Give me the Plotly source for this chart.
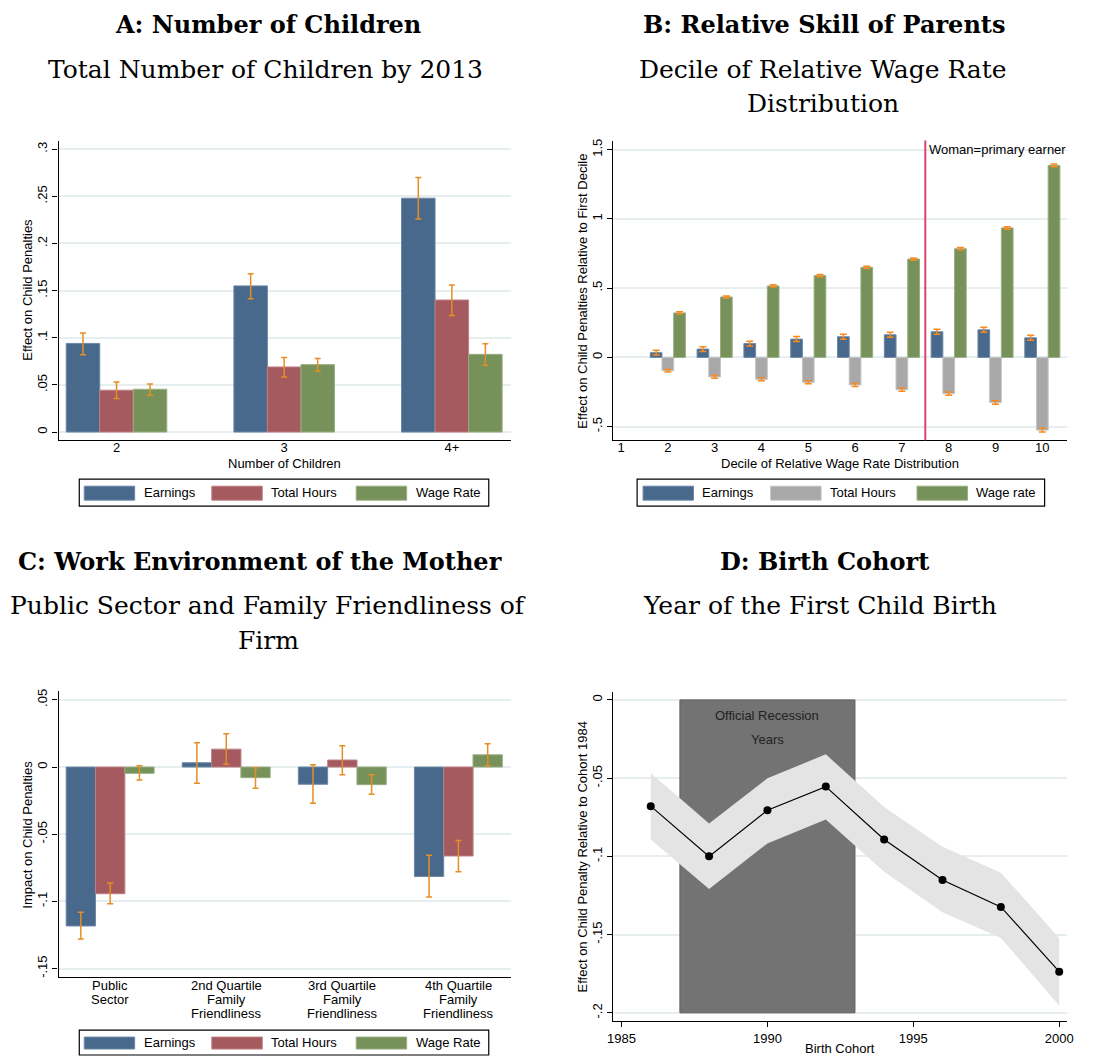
import numpy as np
import plotly.graph_objects as go

W, H = 1107, 1057
PAD = 8  # the page body margin shifts the figure by this much

# ---- Panel A: number of children ----
children_cats = ["2", "3", "4+"]
a_earn = [0.094, 0.155, 0.248]
a_earn_hi = [0.105, 0.168, 0.270]
a_earn_lo = [0.082, 0.1415, 0.226]
a_hours = [0.0444, 0.069, 0.140]
a_hours_hi = [0.053, 0.079, 0.156]
a_hours_lo = [0.0356, 0.0585, 0.1236]
a_wage = [0.0454, 0.0715, 0.0824]
a_wage_hi = [0.051, 0.078, 0.0937]
a_wage_lo = [0.039, 0.0648, 0.0708]
a_ticks = [0, 0.05, 0.1, 0.15, 0.2, 0.25, 0.3]
a_ticktext = ["0", ".05", ".1", ".15", ".2", ".25", ".3"]

# ---- Panel B: relative skill of parents ----
deciles = [2, 3, 4, 5, 6, 7, 8, 9, 10]
b_earn = [0.034, 0.060, 0.100, 0.132, 0.149, 0.163, 0.185, 0.199, 0.141]
b_earn_err = [0.017, 0.017, 0.017, 0.018, 0.018, 0.018, 0.018, 0.018, 0.018]
b_hours = [-0.096, -0.141, -0.158, -0.180, -0.199, -0.233, -0.261, -0.326, -0.525]
b_hours_err = [0.009, 0.010, 0.010, 0.011, 0.011, 0.012, 0.012, 0.013, 0.014]
b_wage = [0.321, 0.436, 0.516, 0.590, 0.650, 0.710, 0.784, 0.935, 1.386]
b_wage_err = [0.008, 0.008, 0.008, 0.008, 0.008, 0.008, 0.009, 0.009, 0.010]
b_xticks = list(range(1, 11))
b_ticks = [-0.5, 0, 0.5, 1, 1.5]
b_ticktext = ["-.5", "0", ".5", "1", "1.5"]
primary_earner_cut = 7.5

# ---- Panel C: work environment of the mother ----
env_cats = ["Public Sector", "2nd Quartile", "3rd Quartile", "4th Quartile"]
env_labels = [["Public", "Sector"],
              ["2nd Quartile", "Family", "Friendliness"],
              ["3rd Quartile", "Family", "Friendliness"],
              ["4th Quartile", "Family", "Friendliness"]]
c_earn = [-0.1183, 0.0032, -0.0128, -0.0815]
c_earn_hi = [-0.108, 0.018, 0.0017, -0.0657]
c_earn_lo = [-0.128, -0.012, -0.0269, -0.0968]
c_hours = [-0.0943, 0.0133, 0.0052, -0.0662]
c_hours_hi = [-0.0864, 0.0247, 0.0158, -0.0546]
c_hours_lo = [-0.1017, 0.002, -0.0057, -0.078]
c_wage = [-0.0047, -0.0079, -0.0131, 0.0091]
c_wage_hi = [0.001, -0.0005, -0.0057, 0.0173]
c_wage_lo = [-0.0096, -0.0158, -0.0202, 0.001]
c_ticks = [-0.15, -0.1, -0.05, 0, 0.05]
c_ticktext = ["-.15", "-.1", "-.05", "0", ".05"]

# ---- Panel D: birth cohort ----
cohorts = [1986, 1988, 1990, 1992, 1994, 1996, 1998, 2000]
d_est = [-0.0679, -0.100, -0.0705, -0.0554, -0.0892, -0.1151, -0.1323, -0.1737]
d_hi = [-0.0467, -0.079, -0.0501, -0.0348, -0.0684, -0.0938, -0.1104, -0.1522]
d_lo = [-0.0892, -0.1208, -0.0917, -0.0764, -0.1098, -0.1357, -0.1522, -0.1953]
recession = [1987, 1993]
d_xticks = [1985, 1990, 1995, 2000]
d_ticks = [-0.2, -0.15, -0.1, -0.05, 0]
d_ticktext = ["-.2", "-.15", "-.1", "-.05", "0"]

# colours
EARN, HOURS, WAGE, GRAY = "#48698c", "#a55a5f", "#76925a", "#a8a8a8"
EARN_L, HOURS_L, WAGE_L, GRAY_L = "#6d89a6", "#bd7e82", "#98ad82", "#c4c4c4"
ORANGE, ORANGE_B = "#e58e24", "#fb8a1c"
GRID = "#e6eef0"
SANS = "Liberation Sans, Arial, sans-serif"
SERIF = "DejaVu Serif, serif"

FW, FH = W - PAD, H - PAD


def px(x):
    return (x - PAD) / FW


def py(y):
    return 1 - (y - PAD) / FH


def err(val, hi, lo, color, cap=3):
    val, hi, lo = np.array(val), np.array(hi), np.array(lo)
    return dict(type="data", symmetric=False, array=hi - val, arrayminus=val - lo,
                color=color, thickness=1.5, width=cap)


def bar(x, y, color, line, width, offset, ax, error):
    return go.Bar(x=x, y=y, width=width, offset=offset, marker=dict(color=color, line=dict(color=line, width=1)),
                  error_y=error, xaxis="x" + ax, yaxis="y" + ax, showlegend=False)


fig = go.Figure()

# A
fig.add_trace(bar(children_cats, a_earn, EARN, EARN_L, 0.2, -0.3, "", err(a_earn, a_earn_hi, a_earn_lo, ORANGE)))
fig.add_trace(bar(children_cats, a_hours, HOURS, HOURS_L, 0.2, -0.1, "", err(a_hours, a_hours_hi, a_hours_lo, ORANGE)))
fig.add_trace(bar(children_cats, a_wage, WAGE, WAGE_L, 0.2, 0.1, "", err(a_wage, a_wage_hi, a_wage_lo, ORANGE)))

# B
for vals, e, col, lc, off in [(b_earn, b_earn_err, EARN, EARN_L, -0.375),
                              (b_hours, b_hours_err, GRAY, GRAY_L, -0.125),
                              (b_wage, b_wage_err, WAGE, WAGE_L, 0.125)]:
    fig.add_trace(bar(deciles, vals, col, lc, 0.25, off, "2",
                      dict(type="data", array=e, color=ORANGE_B, thickness=1.5, width=3.5)))

# C
fig.add_trace(bar(env_cats, c_earn, EARN, EARN_L, 0.2525, -0.379, "3", err(c_earn, c_earn_hi, c_earn_lo, ORANGE)))
fig.add_trace(bar(env_cats, c_hours, HOURS, HOURS_L, 0.2525, -0.126, "3", err(c_hours, c_hours_hi, c_hours_lo, ORANGE)))
fig.add_trace(bar(env_cats, c_wage, WAGE, WAGE_L, 0.2525, 0.126, "3", err(c_wage, c_wage_hi, c_wage_lo, ORANGE)))

# D
fig.add_trace(go.Scatter(x=cohorts + cohorts[::-1], y=d_hi + d_lo[::-1], fill="toself",
                         fillcolor="#e4e4e4", line=dict(width=0), mode="lines",
                         xaxis="x4", yaxis="y4", showlegend=False, hoverinfo="skip"))
fig.add_trace(go.Scatter(x=cohorts, y=d_est, mode="lines+markers",
                         line=dict(color="black", width=1.2), marker=dict(color="black", size=8),
                         xaxis="x4", yaxis="y4", showlegend=False))

axis_common = dict(showline=True, linecolor="black", linewidth=1.2, zeroline=False,
                   tickfont=dict(family=SANS, size=13, color="black"))
yaxis_common = dict(axis_common, showgrid=True, gridcolor=GRID, gridwidth=1.5,
                    ticks="outside", ticklen=5, tickcolor="black", tickangle=-90)

fig.update_layout(
    width=FW, height=FH,
    margin=dict(l=0, r=0, t=0, b=0),
    plot_bgcolor="white", paper_bgcolor="white",
    barmode="overlay",
    font=dict(family=SANS, size=13, color="black"),
    xaxis=dict(axis_common, anchor="y", domain=[px(53), px(510)], range=[-0.346, 2.35],
               showgrid=False, ticks="", ticklabelstandoff=-5),
    yaxis=dict(yaxis_common, anchor="x", domain=[py(439), py(138)], range=[-0.0088, 0.3092],
               tickvals=a_ticks, ticktext=a_ticktext),
    xaxis2=dict(axis_common, anchor="y2", domain=[px(614), px(1073)], range=[0.837, 10.535],
                showgrid=False, ticks="", tickvals=b_xticks, ticklabelstandoff=-5),
    yaxis2=dict(yaxis_common, anchor="x2", domain=[py(439), py(138)], range=[-0.599, 1.566],
                tickvals=b_ticks, ticktext=b_ticktext),
    xaxis3=dict(axis_common, anchor="y3", domain=[px(53), px(510)], range=[-0.445, 3.449],
                showgrid=False, ticks="", showticklabels=False),
    yaxis3=dict(yaxis_common, anchor="x3", domain=[py(978), py(691)], range=[-0.1565, 0.0563],
                tickvals=c_ticks, ticktext=c_ticktext),
    xaxis4=dict(axis_common, anchor="y4", domain=[px(614), px(1073)], range=[1984.72, 2000.28],
                showgrid=False, ticks="outside", ticklen=5, tickcolor="black", tickvals=d_xticks),
    yaxis4=dict(yaxis_common, anchor="x4", domain=[py(1022), py(692)], range=[-0.2053, 0.0048],
                tickvals=d_ticks, ticktext=d_ticktext),
)

shapes = []
annotations = []

# vertical line in B and recession box in D
shapes.append(dict(type="line", xref="x2", yref="y2 domain", x0=primary_earner_cut, x1=primary_earner_cut,
                   y0=0, y1=1, line=dict(color="#d6456d", width=2)))
shapes.append(dict(type="rect", xref="x4", yref="y4", x0=recession[0], x1=recession[1], y0=-0.2, y1=0,
                   fillcolor="#737373", line=dict(color="#5f5f5f", width=1), layer="between"))
annotations.append(dict(text="Woman=primary earner", xref="paper", yref="paper", x=px(931), y=py(147),
                        xanchor="left", yanchor="middle", showarrow=False, font=dict(size=13)))
annotations.append(dict(text="Official Recession", xref="x4", yref="y4", x=1990, y=-0.0098,
                        showarrow=False, font=dict(size=13, color="#222")))
annotations.append(dict(text="Years", xref="x4", yref="y4", x=1990, y=-0.0255,
                        showarrow=False, font=dict(size=13, color="#222")))


def text(t, x, y, size=13, family=SANS, angle=0, anchor="center"):
    annotations.append(dict(text=t, xref="paper", yref="paper", x=px(x), y=py(y), xanchor=anchor,
                            yanchor="middle", showarrow=False, textangle=angle,
                            font=dict(size=size, family=family, color="black")))


# category labels of panel C, one line each to keep Stata's tight spacing
for cat, lines in zip(env_cats, env_labels):
    for k, line in enumerate(lines):
        annotations.append(dict(text=line, xref="x3", yref="paper", x=cat, y=py(986 + 14 * k),
                                yanchor="middle", showarrow=False,
                                font=dict(size=13, family=SANS, color="black")))

# titles
text("<b>A: Number of Children</b>", 265, 22, 24, SERIF)
text("Total Number of Children by 2013", 262, 67, 25, SERIF)
text("<b>B: Relative Skill of Parents</b>", 827, 22, 24, SERIF)
text("Decile of Relative Wage Rate", 826, 67, 25, SERIF)
text("Distribution", 826, 101, 25, SERIF)
text("<b>C: Work Environment of the Mother</b>", 257, 561, 24, SERIF)
text("Public Sector and Family Friendliness of", 265, 605, 25, SERIF)
text("Firm", 265, 640, 25, SERIF)
text("<b>D: Birth Cohort</b>", 827, 561, 24, SERIF)
text("Year of the First Child Birth", 823, 605, 25, SERIF)

# axis titles
text("Effect on Child Penalties", 22, 288, angle=-90)
text("Number of Children", 281, 462)
text("Effect on Child Penalties Relative to First Decile", 583, 289, angle=-90)
text("Decile of Relative Wage Rate Distribution", 843, 462)
text("Impact on Child Penalties", 22, 835, angle=-90)
text("Effect on Child Penalty Relative to Cohort 1984", 583, 857, angle=-90)
text("Birth Cohort", 843, 1049)


# legends drawn as boxes
def legend(box, top, bottom, items):
    shapes.append(dict(type="rect", xref="paper", yref="paper", x0=px(box[0]), x1=px(box[1]),
                       y0=py(bottom), y1=py(top), line=dict(color="black", width=1.2)))
    for x0, label, col, lc in items:
        shapes.append(dict(type="rect", xref="paper", yref="paper", x0=px(x0), x1=px(x0 + 51),
                           y0=py(bottom - 6), y1=py(top + 7), fillcolor=col, line=dict(color=lc, width=1)))
        text(label, x0 + 58, (top + bottom) / 2, anchor="left")


legend((74, 488), 478, 505, [(79, "Earnings", EARN, EARN_L), (208, "Total Hours", HOURS, HOURS_L),
                             (354, "Wage Rate", WAGE, WAGE_L)])
legend((638, 1050), 478, 505, [(644, "Earnings", EARN, EARN_L), (773, "Total Hours", GRAY, GRAY_L),
                               (921, "Wage rate", WAGE, WAGE_L)])
legend((74, 488), 1031, 1056, [(79, "Earnings", EARN, EARN_L), (208, "Total Hours", HOURS, HOURS_L),
                               (354, "Wage Rate", WAGE, WAGE_L)])

fig.update_layout(shapes=shapes, annotations=annotations)

fig.write_html("out.html")
